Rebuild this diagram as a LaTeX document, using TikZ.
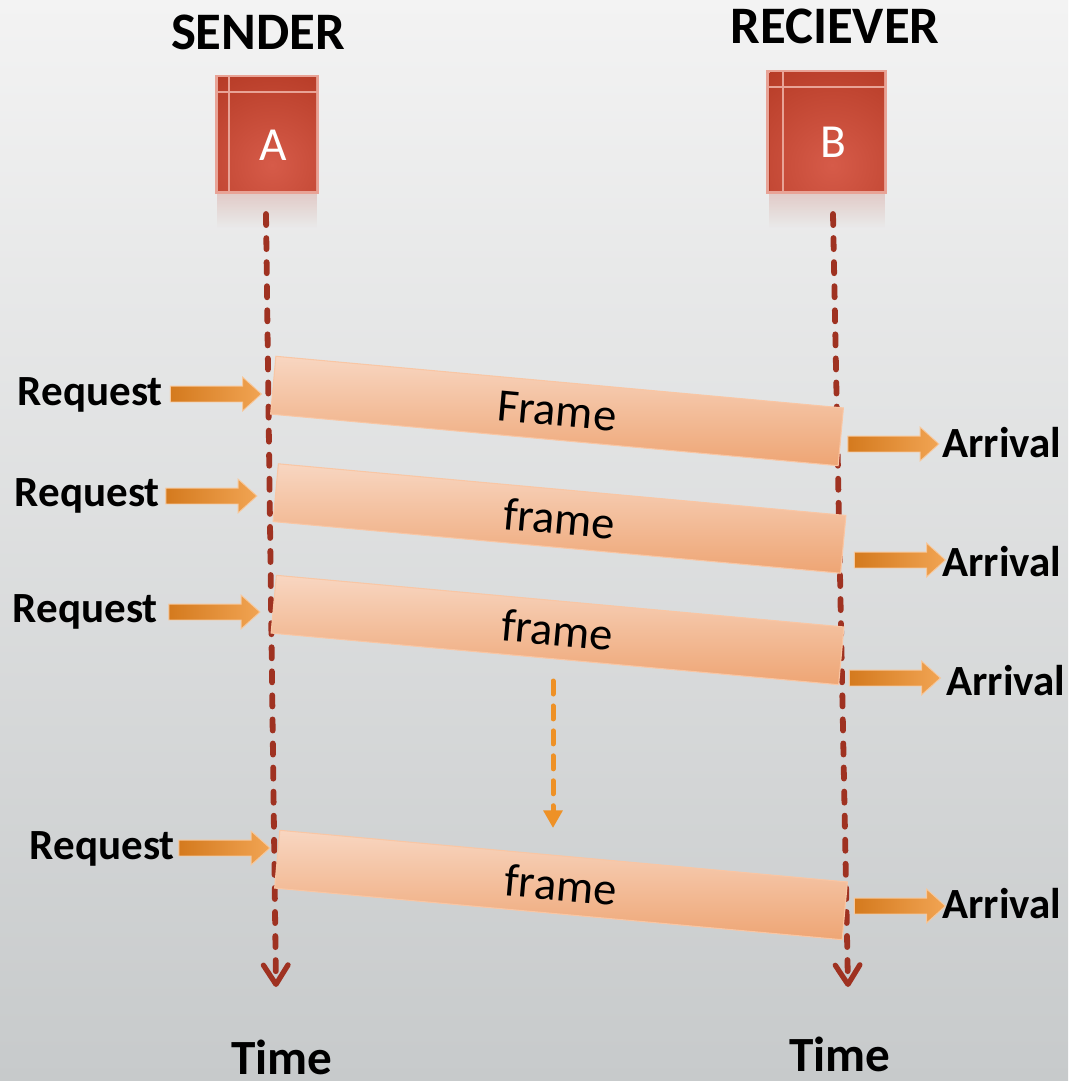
\documentclass[tikz,border=0pt]{standalone}
\usepackage{fontspec}
\setmainfont{Carlito}
\usetikzlibrary{arrows.meta,shapes.arrows,fadings}
\definecolor{bgtop}{HTML}{F3F3F3}
\definecolor{bgbot}{HTML}{C7CACB}
\definecolor{lifered}{HTML}{9F3221}
\definecolor{boxin}{HTML}{D65B49}
\definecolor{boxout}{HTML}{B63B26}
\definecolor{boxline}{HTML}{E8A396}
\definecolor{frtop}{HTML}{F8D6C1}
\definecolor{frbot}{HTML}{EEA574}
\definecolor{frline}{HTML}{F9C6A4}
\definecolor{arL}{HTML}{D47A1E}
\definecolor{arR}{HTML}{F1A453}
\definecolor{arline}{HTML}{F7C89C}
\definecolor{dashor}{HTML}{EE9126}
\begin{document}
\begin{tikzpicture}[x=0.02cm,y=-0.02cm,
  lifeline/.style={draw=lifered,line width=3.3pt,line cap=round,dash pattern=on 6.3pt off 7.4pt,
    -{Straight Barb[length=11pt,width=14pt,line width=3pt,round]}},
  waitline/.style={draw=dashor,line width=2.85pt,line cap=round,dash pattern=on 7.4pt off 6.8pt,
    -{Triangle[length=10pt,width=10.5pt]}},
  station/.style={draw=boxline,line width=1.2pt,fill=boxout,inner sep=0pt},
  glow/.style={inner color=boxin,outer color=boxout},
  boxletter/.style={text=white,font=\fontsize{27}{32}\selectfont,inner sep=0pt},
  framebox/.style={draw=frline,line width=0.6pt,top color=frtop,bottom color=frbot,
    minimum width=11.40cm,minimum height=1.16cm,inner sep=0pt,rotate=-5.2,
    font=\fontsize{26.5}{31}\selectfont},
  blockarrow/.style={single arrow,draw=arline,line width=0.5pt,left color=arL,right color=arR,
    minimum height=1.82cm,inner sep=0pt,inner ysep=0.15cm,single arrow head extend=0.18cm,
    single arrow tip angle=84},
  sidelabel/.style={inner sep=0pt,font=\bfseries\fontsize{24.5}{29}\selectfont},
  title/.style={inner sep=0pt,font=\bfseries\fontsize{30}{36}\selectfont},
  timelabel/.style={inner sep=0pt,font=\bfseries\fontsize{28}{33}\selectfont}]
\useasboundingbox (0,0) rectangle (1068,1081);
\shade[top color=bgtop,bottom color=bgbot] (0,0) rectangle (1068,1081);

% titles
\node[title,anchor=base] (sender) at (258,50) {SENDER};
\node[title,anchor=base] (receiver) at (835,44) {RECIEVER};

% reflections
\fill[boxout,opacity=0.18,path fading=south] (217,194) rectangle (317,228);
\fill[boxout,opacity=0.18,path fading=south] (769,194) rectangle (885,228);

% station boxes
\node[station,minimum width=2.0cm,minimum height=2.3cm] (boxA) at (267,134.5) {};
\begin{scope}
  \clip (218,78) rectangle (316,191);
  \shade[glow] (272,165) circle (105);
\end{scope}
\draw[boxline,line width=1.2pt] (229,77) -- (229,192) (217,92) -- (317,92);
\draw[boxline,line width=1.2pt] (boxA.north west) rectangle (boxA.south east);
\node[boxletter] (letA) at (273,145) {A};

\node[station,minimum width=2.34cm,minimum height=2.4cm] (boxB) at (826.5,132) {};
\begin{scope}
  \clip (770,73) rectangle (884,191);
  \shade[glow] (832,165) circle (115);
\end{scope}
\draw[boxline,line width=1.2pt] (783,72) -- (783,192) (769,87) -- (885,87);
\draw[boxline,line width=1.2pt] (boxB.north west) rectangle (boxB.south east);
\node[boxletter] (letB) at (833,142) {B};

% lifelines
\coordinate (atop) at (266,214);
\coordinate (abot) at (276,987);
\coordinate (btop) at (833,214);
\coordinate (bbot) at (848,987);
\draw[lifeline] (atop) -- (abot);
\draw[lifeline] (btop) -- (bbot);

% waiting arrow
\coordinate (wtop) at (553,681);
\coordinate (wbot) at (553,828);
\draw[waitline] (wtop) -- (wbot);

% frames
\node[framebox] (f1) at (557,411) {Frame};
\node[framebox] (f2) at (559.5,518.5) {frame};
\node[framebox] (f3) at (557.5,630) {frame};
\node[framebox] (f4) at (561,885) {frame};

% request arrows and labels
\node[blockarrow] (q1) at (211.5,394) {};
\node[blockarrow] (q2) at (207,496) {};
\node[blockarrow] (q3) at (210,612) {};
\node[blockarrow] (q4) at (220,848) {};
\node[sidelabel,anchor=base east] (r1) at (163,405.5) {Request};
\node[sidelabel,anchor=base east] (r2) at (160,506) {Request};
\node[sidelabel,anchor=base east] (r3) at (158,622) {Request};
\node[sidelabel,anchor=base east] (r4) at (175,859) {Request};

% arrival arrows and labels
\node[blockarrow] (p1) at (889,444) {};
\node[blockarrow] (p2) at (895.5,560) {};
\node[blockarrow] (p3) at (890.5,678) {};
\node[blockarrow] (p4) at (895.5,906) {};
\node[sidelabel,anchor=base west] (v1) at (942,457) {Arrival};
\node[sidelabel,anchor=base west] (v2) at (942,576) {Arrival};
\node[sidelabel,anchor=base west] (v3) at (946,695) {Arrival};
\node[sidelabel,anchor=base west] (v4) at (942,918) {Arrival};

% time labels
\node[timelabel,anchor=base] (t1) at (282,1074) {Time};
\node[timelabel,anchor=base] (t2) at (840,1071) {Time};
\end{tikzpicture}
\end{document}
